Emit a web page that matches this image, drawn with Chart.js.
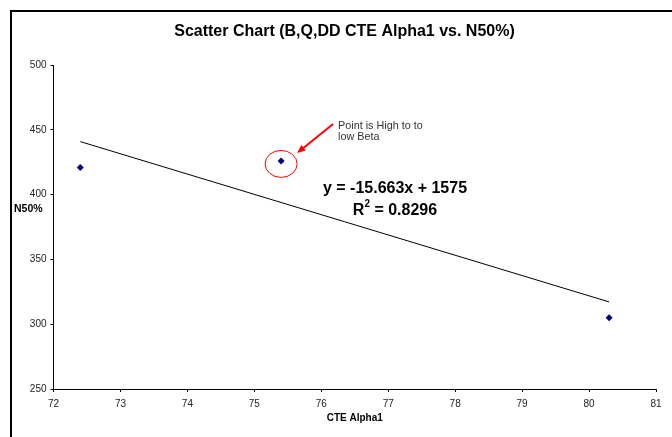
<!DOCTYPE html>
<html>
<head>
<meta charset="utf-8">
<script src="https://cdn.jsdelivr.net/npm/chart.js@4"></script>
<style>
  html, body { margin: 0; padding: 0; background: #fff; }
  #wrap { width: 672px; height: 437px; position: relative; }
</style>
</head>
<body>
<div id="wrap"><canvas id="canvas" width="672" height="437"></canvas></div>
<script>
// data
const cteAlpha = [72.4, 75.4, 80.3];
const n50 = [421, 426, 305];
const xTicks = [72, 73, 74, 75, 76, 77, 78, 79, 80, 81];
const yTicks = [250, 300, 350, 400, 450, 500];
const titleText = 'Scatter Chart (B,Q,DD CTE Alpha1 vs. N50%)';
const xTitle = 'CTE Alpha1';
const yTitle = 'N50%';
const eqText = 'y = -15.663x + 1575';
const r2Value = '0.8296';
const noteLines = ['Point is High to to', 'low Beta'];

// least squares line through the points
function fitLine(xs, ys) {
    const n = xs.length;
    const mx = xs.reduce((a, b) => a + b, 0) / n;
    const my = ys.reduce((a, b) => a + b, 0) / n;
    let sxy = 0, sxx = 0;
    for (let i = 0; i < n; ++i) {
        sxy += (xs[i] - mx) * (ys[i] - my);
        sxx += (xs[i] - mx) * (xs[i] - mx);
    }
    const slope = sxy / sxx;
    return { slope: slope, intercept: my - slope * mx };
}
const fit = fitLine(cteAlpha, n50);
const xMin = Math.min(...cteAlpha);
const xMax = Math.max(...cteAlpha);
const trendPts = [xMin, xMax].map(x => ({ x: x, y: fit.slope * x + fit.intercept }));

const font = 'Arial, "Liberation Sans", sans-serif';

const decor = {
    id: 'decor',
    afterDraw(chart) {
        const ctx = chart.ctx;
        const xs = chart.scales.x;
        const ys = chart.scales.y;
        const area = chart.chartArea;
        ctx.save();
        // outer frame
        ctx.strokeStyle = '#000';
        ctx.lineWidth = 2;
        ctx.strokeRect(11, 11, 700, 500);
        // title
        ctx.fillStyle = '#000';
        ctx.textAlign = 'center';
        ctx.textBaseline = 'middle';
        ctx.font = 'bold 16px ' + font;
        ctx.fillText(titleText, 344.5, 32);
        // axis titles
        ctx.font = 'bold 10px ' + font;
        ctx.fillText(xTitle, (area.left + area.right) / 2, 418);
        ctx.textAlign = 'left';
        ctx.font = 'bold 10.5px ' + font;
        ctx.fillText(yTitle, 14, 209);

        // circled point + arrow + note
        const px = xs.getPixelForValue(cteAlpha[1]);
        const py = ys.getPixelForValue(n50[1]);
        ctx.strokeStyle = '#ff0000';
        ctx.lineWidth = 1;
        ctx.beginPath();
        ctx.ellipse(px, py + 3, 16, 13.5, 0, 0, Math.PI * 2);
        ctx.stroke();
        const ax0 = px + 52, ay0 = py - 37, ax1 = px + 16, ay1 = py - 8;
        ctx.lineWidth = 2;
        ctx.beginPath();
        ctx.moveTo(ax0, ay0);
        ctx.lineTo(ax1 + 5, ay1 - 4);
        ctx.stroke();
        const ang = Math.atan2(ay1 - ay0, ax1 - ax0);
        ctx.fillStyle = '#ff0000';
        ctx.beginPath();
        ctx.moveTo(ax1, ay1);
        ctx.lineTo(ax1 - 9 * Math.cos(ang - 0.4), ay1 - 9 * Math.sin(ang - 0.4));
        ctx.lineTo(ax1 - 9 * Math.cos(ang + 0.4), ay1 - 9 * Math.sin(ang + 0.4));
        ctx.closePath();
        ctx.fill();
        ctx.fillStyle = '#333';
        ctx.font = '10.8px ' + font;
        ctx.textAlign = 'left';
        ctx.fillText(noteLines[0], px + 57, py - 35);
        ctx.fillText(noteLines[1], px + 57, py - 24);

        // trend equation
        const cx = 395;
        ctx.fillStyle = '#000';
        ctx.font = 'bold 16px ' + font;
        ctx.textAlign = 'center';
        ctx.fillText(eqText, cx, 189);
        const r1 = 'R', r2 = ' = ' + r2Value;
        const w1 = ctx.measureText(r1).width;
        ctx.font = 'bold 10px ' + font;
        const ws = ctx.measureText('2').width;
        ctx.font = 'bold 16px ' + font;
        const w2 = ctx.measureText(r2).width;
        let sx = cx - (w1 + ws + w2) / 2;
        ctx.textAlign = 'left';
        ctx.fillText(r1, sx, 211);
        ctx.font = 'bold 10px ' + font;
        ctx.fillText('2', sx + w1, 204);
        ctx.font = 'bold 16px ' + font;
        ctx.fillText(r2, sx + w1 + ws, 211);
        ctx.restore();
    }
};

const data = {
    datasets: [{
        type: 'line',
        label: 'Trend',
        data: trendPts,
        borderColor: '#000',
        borderWidth: 1,
        pointRadius: 0,
        fill: false,
        order: 2
    }, {
        type: 'scatter',
        label: 'N50%',
        data: cteAlpha.map((x, i) => ({ x: x, y: n50[i] })),
        pointStyle: 'rectRot',
        pointRadius: 3.5,
        backgroundColor: '#000080',
        borderColor: '#000080',
        borderWidth: 0,
        order: 1
    }]
};

const config = {
    type: 'scatter',
    data: data,
    plugins: [decor],
    options: {
        responsive: false,
        animation: false,
        layout: { padding: { left: 0, top: 65, right: 16, bottom: 0 } },
        plugins: {
            legend: { display: false },
            title: { display: false },
            tooltip: { enabled: false }
        },
        scales: {
            x: {
                type: 'linear',
                min: 72,
                max: 81,
                afterBuildTicks: s => { s.ticks = xTicks.map(v => ({ value: v })); },
                afterFit: s => { s.height = 48; },
                grid: { drawOnChartArea: false, drawTicks: true, tickLength: 3, color: '#000' },
                border: { display: true, color: '#000', width: 1 },
                ticks: { color: '#222', font: { family: font, size: 10 }, padding: 6 }
            },
            y: {
                type: 'linear',
                min: 250,
                max: 500,
                afterBuildTicks: s => { s.ticks = yTicks.map(v => ({ value: v })); },
                afterFit: s => { s.width = 53.5; },
                grid: { drawOnChartArea: false, drawTicks: true, tickLength: 3, color: '#000' },
                border: { display: true, color: '#000', width: 1 },
                ticks: { color: '#222', font: { family: font, size: 10 }, padding: 4 }
            }
        }
    }
};

const chart = new Chart(document.getElementById('canvas'), config);
</script>
</body>
</html>
